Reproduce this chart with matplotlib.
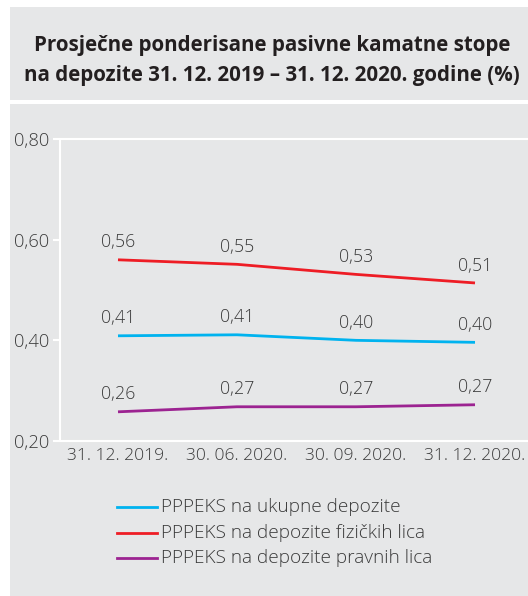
import matplotlib
matplotlib.use('Agg')
import matplotlib.pyplot as plt
from matplotlib.patches import Rectangle

plt.rcParams['font.family'] = ['Open Sans', 'DejaVu Sans']

# Data
dates = ['31. 12. 2019.', '30. 06. 2020.', '30. 09. 2020.', '31. 12. 2020.']
ukupne = [0.409, 0.411, 0.400, 0.396]
fizicka = [0.560, 0.551, 0.531, 0.514]
pravna = [0.258, 0.268, 0.268, 0.272]
ukupne_lbl = ['0,41', '0,41', '0,40', '0,40']
fizicka_lbl = ['0,56', '0,55', '0,53', '0,51']
pravna_lbl = ['0,26', '0,27', '0,27', '0,27']
series_names = ['PPPEKS na ukupne depozite',
                'PPPEKS na depozite fizičkih lica',
                'PPPEKS na depozite pravnih lica']
yticks = [0.20, 0.40, 0.60, 0.80]
ytick_lbl = ['0,20', '0,40', '0,60', '0,80']

grey = '#e6e7e8'
txt = '#3b3b3b'
colors = ['#00b3ef', '#ee1d25', '#9c2391']

W, H = 528, 596
fig = plt.figure(figsize=(W/100, H/100), dpi=100)
fig.patch.set_facecolor('white')

# background panels (title box + chart box)
fig.patches.append(Rectangle((10/W, 1-100/H), 1, 93/H, transform=fig.transFigure,
                             facecolor=grey, edgecolor='none', zorder=-5))
fig.patches.append(Rectangle((10/W, 0), 1, 1-104/H, transform=fig.transFigure,
                             facecolor=grey, edgecolor='none', zorder=-5))

fig.text(272/W, 1-45/H, 'Prosječne ponderisane pasivne kamatne stope',
         ha='center', va='center', fontsize=14.8, fontweight='bold', color='#231f20')
fig.text(272/W, 1-75/H, 'na depozite 31. 12. 2019 – 31. 12. 2020. godine (%)',
         ha='center', va='center', fontsize=14.8, fontweight='bold', color='#231f20')

# axes: left x=60, right=528, top y=139, bottom y=441
ax = fig.add_axes([60/W, 1-441/H, (W-60)/W, (441-139)/H])
ax.set_facecolor('none')
ax.set_zorder(2)
x = list(range(len(dates)))
ax.set_xlim(-58/119, -58/119 + (W-60)/119)
ax.set_ylim(0.20, 0.80)

for vals, lbls, c in [(ukupne, ukupne_lbl, colors[0]),
                      (fizicka, fizicka_lbl, colors[1]),
                      (pravna, pravna_lbl, colors[2])]:
    ax.plot(x, vals, color=c, lw=2.0, solid_capstyle='butt')
    for xi, v, l in zip(x, vals, lbls):
        ax.annotate(l, (xi, v), xytext=(0, 6), textcoords='offset points',
                    ha='center', va='bottom', fontsize=12.8, color=txt,
                    fontweight='light')

for s in ['left', 'bottom', 'top']:
    ax.spines[s].set_color('white')
    ax.spines[s].set_linewidth(1.5)
ax.spines['right'].set_visible(False)

ax.set_yticks(yticks)
ax.set_yticklabels(ytick_lbl, fontweight='light')
ax.set_xticks(x)
ax.set_xticklabels(dates, fontweight='light')
ax.tick_params(axis='y', colors='white', length=5, width=1.5, labelcolor=txt,
               labelsize=13.2, pad=3)
ax.tick_params(axis='x', length=0, labelcolor=txt, labelsize=12.6, pad=5)

# legend drawn manually to match placement
for i, (name, c) in enumerate(zip(series_names, colors)):
    yy = 1 - (507 + 25.5*i)/H
    fig.add_artist(plt.Line2D([117/W, 157/W], [yy, yy], color=c, lw=2.0,
                              transform=fig.transFigure))
    fig.text(161/W, yy, name, ha='left', va='center', fontsize=13.7, color=txt,
             fontweight='light')

fig.savefig('out.png', dpi=100, facecolor='white')
